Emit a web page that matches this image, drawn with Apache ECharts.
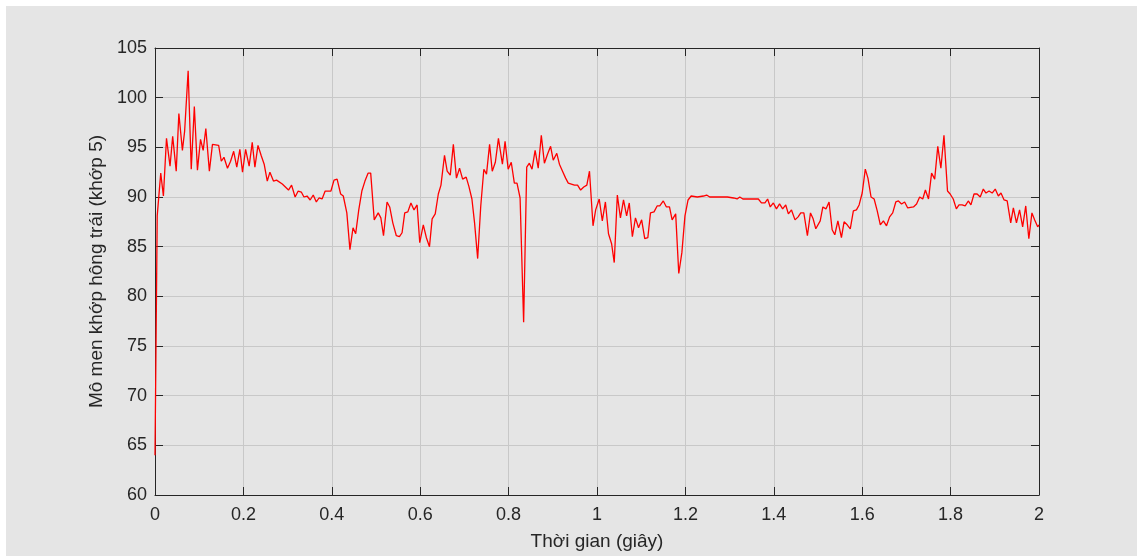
<!DOCTYPE html>
<html>
<head>
<meta charset="utf-8">
<script src="https://cdn.jsdelivr.net/npm/echarts@6/dist/echarts.min.js"></script>
<style>
  html, body { margin: 0; padding: 0; background: #ffffff; }
  #wrap { position: relative; width: 1141px; height: 556px; background: #ffffff; overflow: hidden; }
  #chart { position: absolute; left: 6px; top: 6px; width: 1131px; height: 550px; background: #e5e5e5; }
</style>
</head>
<body>
<div id="wrap"><div id="chart"></div></div>
<script>
// Time (s)
const timeValues = [
  0, 0.005, 0.013, 0.019, 0.026, 0.034, 0.040, 0.048, 0.054, 0.062, 0.067, 0.075, 0.082, 0.089, 0.096,
  0.103, 0.109, 0.115, 0.123, 0.130, 0.144, 0.150, 0.156, 0.164, 0.171, 0.178, 0.185, 0.192, 0.198,
  0.205, 0.213, 0.220, 0.226, 0.233, 0.240, 0.247, 0.254, 0.260, 0.268, 0.275, 0.288, 0.302, 0.309,
  0.317, 0.324, 0.331, 0.337, 0.344, 0.351, 0.358, 0.365, 0.371, 0.378, 0.385, 0.398, 0.405, 0.412,
  0.420, 0.426, 0.434, 0.441, 0.448, 0.454, 0.461, 0.468, 0.475, 0.482, 0.488, 0.496,
  0.505, 0.511, 0.517, 0.525, 0.531, 0.538, 0.546, 0.553, 0.559, 0.565, 0.572, 0.579, 0.586, 0.593,
  0.599, 0.607, 0.614, 0.621, 0.627, 0.634, 0.641, 0.647, 0.655, 0.661, 0.668, 0.675, 0.682, 0.689,
  0.696, 0.704, 0.710, 0.717, 0.723, 0.730, 0.737, 0.744, 0.750, 0.757, 0.763, 0.770, 0.777, 0.786,
  0.792, 0.799, 0.806, 0.813, 0.819, 0.826, 0.834, 0.841, 0.847, 0.853, 0.860, 0.867, 0.874, 0.881,
  0.888, 0.895, 0.901, 0.909, 0.915, 0.922, 0.929, 0.935, 0.942, 0.949, 0.956, 0.963, 0.970, 0.977,
  0.983, 0.991,
  0.997, 1.005, 1.012, 1.019, 1.026, 1.033, 1.039, 1.046, 1.053, 1.060, 1.067, 1.073, 1.080, 1.087,
  1.094, 1.101, 1.108, 1.115, 1.121, 1.129, 1.136, 1.142, 1.150, 1.157, 1.164, 1.170, 1.178, 1.185,
  1.192, 1.199, 1.206, 1.213, 1.227, 1.241, 1.248, 1.255, 1.268, 1.283, 1.295, 1.309, 1.317, 1.323,
  1.330, 1.365, 1.372, 1.380, 1.386, 1.392, 1.399, 1.406, 1.413, 1.420, 1.427, 1.433, 1.440, 1.448,
  1.455, 1.461, 1.468, 1.476, 1.483, 1.489, 1.495,
  1.505, 1.511, 1.518, 1.525, 1.532, 1.538, 1.545, 1.553, 1.559, 1.566, 1.573, 1.580, 1.587, 1.593,
  1.600, 1.607, 1.613, 1.620, 1.627, 1.634, 1.641, 1.648, 1.655, 1.662, 1.669, 1.676, 1.682, 1.689,
  1.696, 1.703, 1.716, 1.723, 1.730, 1.737, 1.743, 1.750, 1.757, 1.764, 1.771, 1.778, 1.785, 1.793,
  1.799, 1.806, 1.813, 1.819, 1.826, 1.833, 1.840, 1.846, 1.853, 1.860, 1.867, 1.874, 1.880, 1.887,
  1.894, 1.901, 1.908, 1.914, 1.921, 1.928, 1.936, 1.942, 1.949, 1.956, 1.963, 1.970, 1.977, 1.984,
  1.990, 1.997, 2.0
];
// Hip joint moment (joint 5)
const momentValues = [
  64, 88.1, 92.4, 90.1, 95.9, 93.1, 96.1, 92.6, 98.4, 94.7, 96.6, 102.7, 92.8, 99.1, 92.7,
  95.8, 94.7, 96.9, 92.6, 95.3, 95.2, 93.6, 94.0, 92.9, 93.6, 94.6, 93.0, 94.8, 92.5,
  94.8, 93.1, 95.5, 93.0, 95.2, 94.2, 93.3, 91.6, 92.5, 91.6, 91.7, 91.3, 90.7, 91.2,
  90.0, 90.6, 90.5, 90.0, 90.1, 89.7, 90.2, 89.5, 89.9, 89.8, 90.6, 90.6, 91.7, 91.8,
  90.3, 90.1, 88.4, 84.7, 86.9, 86.3, 88.7, 90.6, 91.6, 92.4, 92.4, 87.7,
  88.4, 87.9, 86.1, 89.5, 89.0, 87.4, 86.1, 86.0, 86.4, 88.4, 88.5, 89.4, 88.7, 89.2,
  85.4, 87.2, 85.9, 85.0, 87.8, 88.3, 90.3, 91.2, 94.2, 92.6, 92.2, 95.3, 91.9, 92.9,
  91.8, 92.0, 91.1, 89.8, 87.4, 83.8, 89.1, 92.8, 92.3, 95.3, 92.6, 93.5, 95.9, 93.3,
  95.6, 92.8, 93.5, 91.4, 91.4, 89.9, 77.4, 93.0, 93.4, 92.8, 94.7, 92.9, 96.2, 93.4,
  94.3, 95.1, 93.7, 94.4, 93.3, 92.6, 91.9, 91.4, 91.3, 91.2, 91.2, 90.7, 91.0, 91.2,
  92.6, 87.1,
  88.7, 89.8, 87.6, 89.5, 86.3, 85.3, 83.4, 90.2, 87.9, 89.7, 88.1, 89.4, 86.0, 87.9,
  86.9, 87.7, 85.8, 85.9, 88.4, 88.5, 89.1, 89.1, 89.6, 89.0, 89.0, 87.7, 88.3, 82.3,
  84.4, 88.1, 89.7, 90.1, 90.0, 90.1, 90.2, 90.0, 90.0, 90.0, 90.0, 89.9, 89.8, 90.0,
  89.8, 89.8, 89.4, 89.4, 89.8, 89.0, 89.4, 88.8, 89.3, 88.8, 89.2, 88.3, 88.7, 87.7,
  88.0, 88.4, 88.4, 86.1, 88.4, 87.8, 86.8,
  87.6, 89.0, 88.8, 89.5, 86.7, 86.2, 87.6, 85.9, 87.5, 87.2, 86.8, 88.6, 88.7, 89.2,
  90.4, 92.8, 91.9, 90.0, 89.8, 88.6, 87.2, 87.6, 87.1, 88.0, 88.4, 89.5, 89.6, 89.3,
  89.5, 88.9, 89.0, 89.3, 90.0, 89.8, 90.7, 89.8, 92.4, 91.8, 95.1, 92.9, 96.2, 90.6,
  90.3, 89.8, 88.8, 89.2, 89.2, 89.1, 89.6, 89.2, 90.3, 90.3, 90.0, 90.8, 90.4, 90.6,
  90.4, 90.8, 90.1, 90.4, 89.7, 89.6, 87.4, 88.9, 87.4, 88.7, 87.0, 89.1, 85.8, 88.4,
  87.7, 87.0, 87.2
];
const xTicks = { min: 0, max: 2, interval: 0.2 };
const yTicks = { min: 60, max: 105, interval: 5 };
const xName = 'Thời gian (giây)';
const yName = 'Mô men khớp hông trái (khớp 5)';

const seriesData = timeValues.map((t, i) => [t, momentValues[i]]);

const FONT = '"Liberation Sans", Arial, Helvetica, sans-serif';
const INK = '#262626';
const chart = echarts.init(document.getElementById('chart'), null, { renderer: 'canvas' });

const baseAxisLine = { show: true, onZero: false, lineStyle: { color: INK, width: 1 } };
chart.setOption({
  animation: false,
  backgroundColor: '#e5e5e5',
  grid: { left: 149, top: 42, right: 98, bottom: 58, containLabel: false, show: false },
  xAxis: [
    {
      type: 'value', min: xTicks.min, max: xTicks.max, interval: xTicks.interval,
      position: 'bottom',
      name: xName, nameLocation: 'middle', nameGap: 37,
      nameTextStyle: { fontFamily: FONT, fontSize: 19, color: INK },
      axisLine: baseAxisLine,
      axisTick: { show: true, inside: true, length: 8, lineStyle: { color: INK } },
      axisLabel: { fontFamily: FONT, fontSize: 18, color: INK, margin: 11 },
      splitLine: { show: true, lineStyle: { color: '#c8c8c8', width: 1 } }
    },
    {
      type: 'value', min: xTicks.min, max: xTicks.max, interval: xTicks.interval,
      position: 'top',
      axisLine: baseAxisLine,
      axisTick: { show: true, inside: true, length: 8, lineStyle: { color: INK } },
      axisLabel: { show: false },
      splitLine: { show: false }
    }
  ],
  yAxis: [
    {
      type: 'value', min: yTicks.min, max: yTicks.max, interval: yTicks.interval,
      position: 'left',
      name: yName, nameLocation: 'middle', nameGap: 44,
      nameTextStyle: { fontFamily: FONT, fontSize: 19, color: INK },
      axisLine: baseAxisLine,
      axisTick: { show: true, inside: true, length: 8, lineStyle: { color: INK } },
      axisLabel: { fontFamily: FONT, fontSize: 18, color: INK, margin: 8 },
      splitLine: { show: true, lineStyle: { color: '#c8c8c8', width: 1 } }
    },
    {
      type: 'value', min: yTicks.min, max: yTicks.max, interval: yTicks.interval,
      position: 'right',
      axisLine: baseAxisLine,
      axisTick: { show: true, inside: true, length: 8, lineStyle: { color: INK } },
      axisLabel: { show: false },
      splitLine: { show: false }
    }
  ],
  series: [
    {
      type: 'line',
      data: seriesData,
      xAxisIndex: 0, yAxisIndex: 0,
      showSymbol: false, symbol: 'none',
      lineStyle: { color: '#ff0000', width: 1.3 },
      clip: true,
      z: 3
    }
  ]
});
</script>
</body>
</html>
